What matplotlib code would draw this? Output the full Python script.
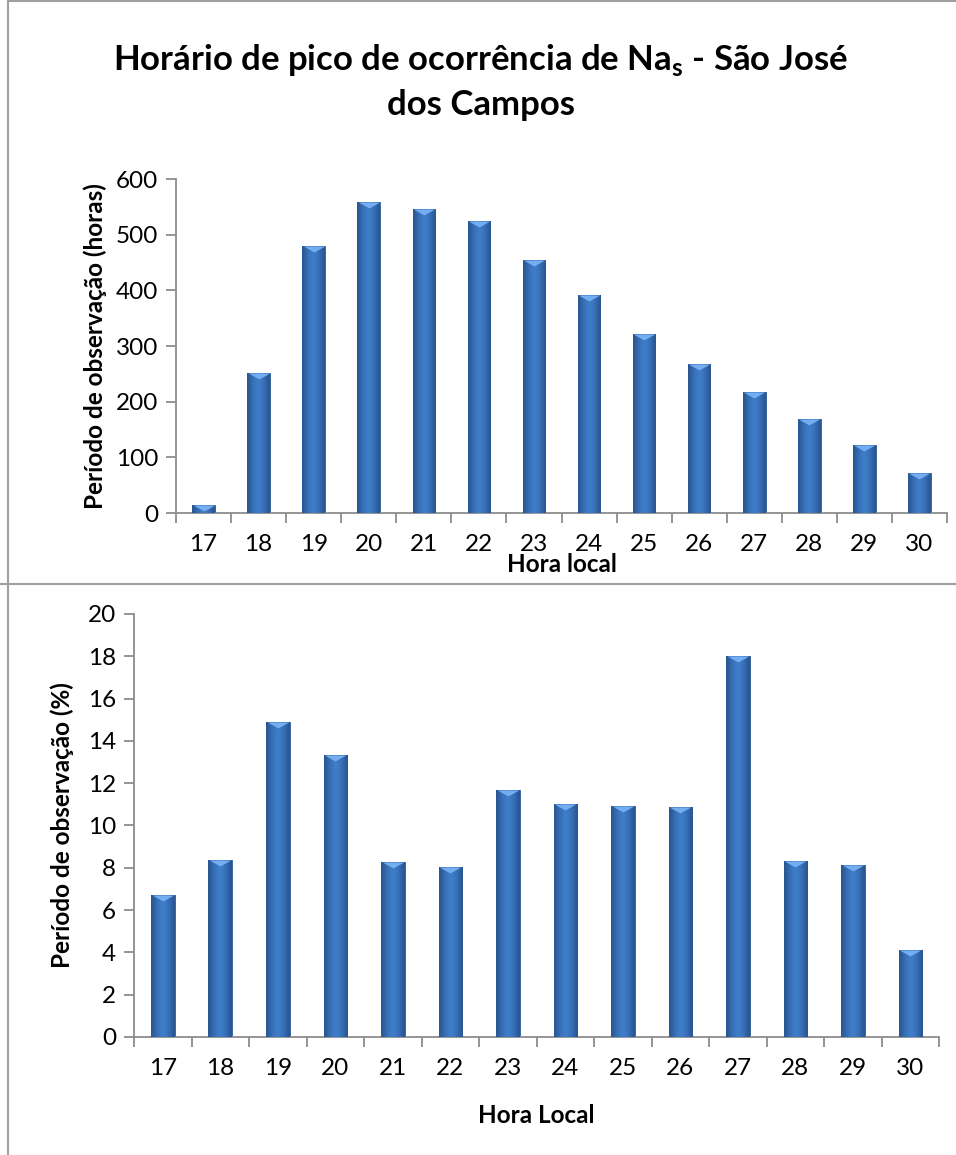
import matplotlib
matplotlib.use("Agg")
import matplotlib.pyplot as plt
import numpy as np
from matplotlib.lines import Line2D

plt.rcParams['font.family'] = ['Lato', 'DejaVu Sans']
plt.rcParams['mathtext.fontset'] = 'custom'
plt.rcParams['mathtext.bf'] = 'Lato:bold'
plt.rcParams['mathtext.rm'] = 'Lato'

# data
hours = ['17', '18', '19', '20', '21', '22', '23', '24', '25', '26', '27', '28', '29', '30']
obs_hours = [15, 251, 480, 558, 546, 524, 455, 391, 322, 268, 218, 169, 122, 72]
obs_pct = [6.7, 8.38, 14.87, 13.32, 8.28, 8.05, 11.7, 11.03, 10.94, 10.89, 18.02, 8.3, 8.14, 4.11]

title = 'Horário de pico de ocorrência de Na$_\\mathbf{s}$ - São José\ndos Campos'

BAR_W = 0.41
GRAY = '#8c8c8c'
FS = 17.5

# horizontal shading for the bars (dark edges, lighter middle)
shade = np.array([0.0, 0.35, 0.6, 0.8, 0.9, 0.8, 0.6, 0.35, 0.0])
c_dark = np.array([0x2a, 0x57, 0x93]) / 255.
c_light = np.array([0x41, 0x82, 0xd0]) / 255.
grad = (c_dark[None, :] + (c_light - c_dark)[None, :] * shade[:, None])[None, :, :]

bevel = [(-1, 0), (1, 0), (0, -0.55), (-1, 0)]


def draw_bars(ax, values):
    x = np.arange(len(values))
    bars = ax.bar(x, values, width=BAR_W, color='#3a74bd', edgecolor='#2b5a94', linewidth=0.6, zorder=2)
    for b in bars:
        x0, w, h = b.get_x(), b.get_width(), b.get_height()
        im = ax.imshow(grad, extent=[x0, x0 + w, 0, h], aspect='auto', zorder=3, interpolation='bicubic')
        im.set_clip_path(b)
    # light bevel on top of each bar
    ax.plot(x, values, linestyle='none', marker=bevel, markersize=15.5, color='#74aef0',
            markeredgewidth=0, zorder=4)
    ax.set_xlim(-0.5, len(values) - 0.5)


def style_axis(ax):
    for s in ['top', 'right']:
        ax.spines[s].set_visible(False)
    for s in ['left', 'bottom']:
        ax.spines[s].set_color(GRAY)
        ax.spines[s].set_linewidth(1.3)
    ax.set_xticks(np.arange(len(hours)))
    ax.set_xticklabels(hours)
    ax.set_xticks(np.arange(len(hours) + 1) - 0.5, minor=True)
    ax.tick_params(axis='x', which='major', length=0, pad=15, labelsize=FS)
    ax.tick_params(axis='x', which='minor', length=7, width=1.3, color=GRAY)
    ax.tick_params(axis='y', length=7, width=1.3, color=GRAY, labelsize=FS, pad=6)


fig = plt.figure(figsize=(9.56, 11.55), dpi=100)

ax1 = fig.add_axes([0.1841, 0.5558, 0.8065, 0.2892])
draw_bars(ax1, obs_hours)
style_axis(ax1)
ax1.set_ylim(0, 600)
ax1.set_yticks(range(0, 601, 100))
ax1.set_ylabel('Período de observação (horas)', fontsize=FS, fontweight='bold', labelpad=6)
ax1.text(0.5, -0.155, 'Hora local', transform=ax1.transAxes, ha='center', va='center',
         fontsize=FS, fontweight='bold')

ax2 = fig.add_axes([0.1402, 0.1022, 0.8421, 0.3662])
draw_bars(ax2, obs_pct)
style_axis(ax2)
ax2.set_ylim(0, 20)
ax2.set_yticks(range(0, 21, 2))
ax2.set_ylabel('Período de observação (%)', fontsize=FS, fontweight='bold', labelpad=10)
ax2.set_xlabel('Hora Local', fontsize=FS, fontweight='bold', labelpad=18)

fig.text(0.503, 0.9295, title, ha='center', va='center', fontsize=25, fontweight='bold',
         linespacing=1.42)

# chart frames
fig.add_artist(Line2D([8 / 956, 8 / 956], [0, 1 - 1 / 1155], color='#a0a0a0', lw=1.5))
fig.add_artist(Line2D([8 / 956, 1], [1 - 1 / 1155, 1 - 1 / 1155], color='#a0a0a0', lw=1.5))
fig.add_artist(Line2D([0, 1], [1 - 584 / 1155, 1 - 584 / 1155], color='#a0a0a0', lw=1.5))

fig.savefig('out.png', dpi=100)
